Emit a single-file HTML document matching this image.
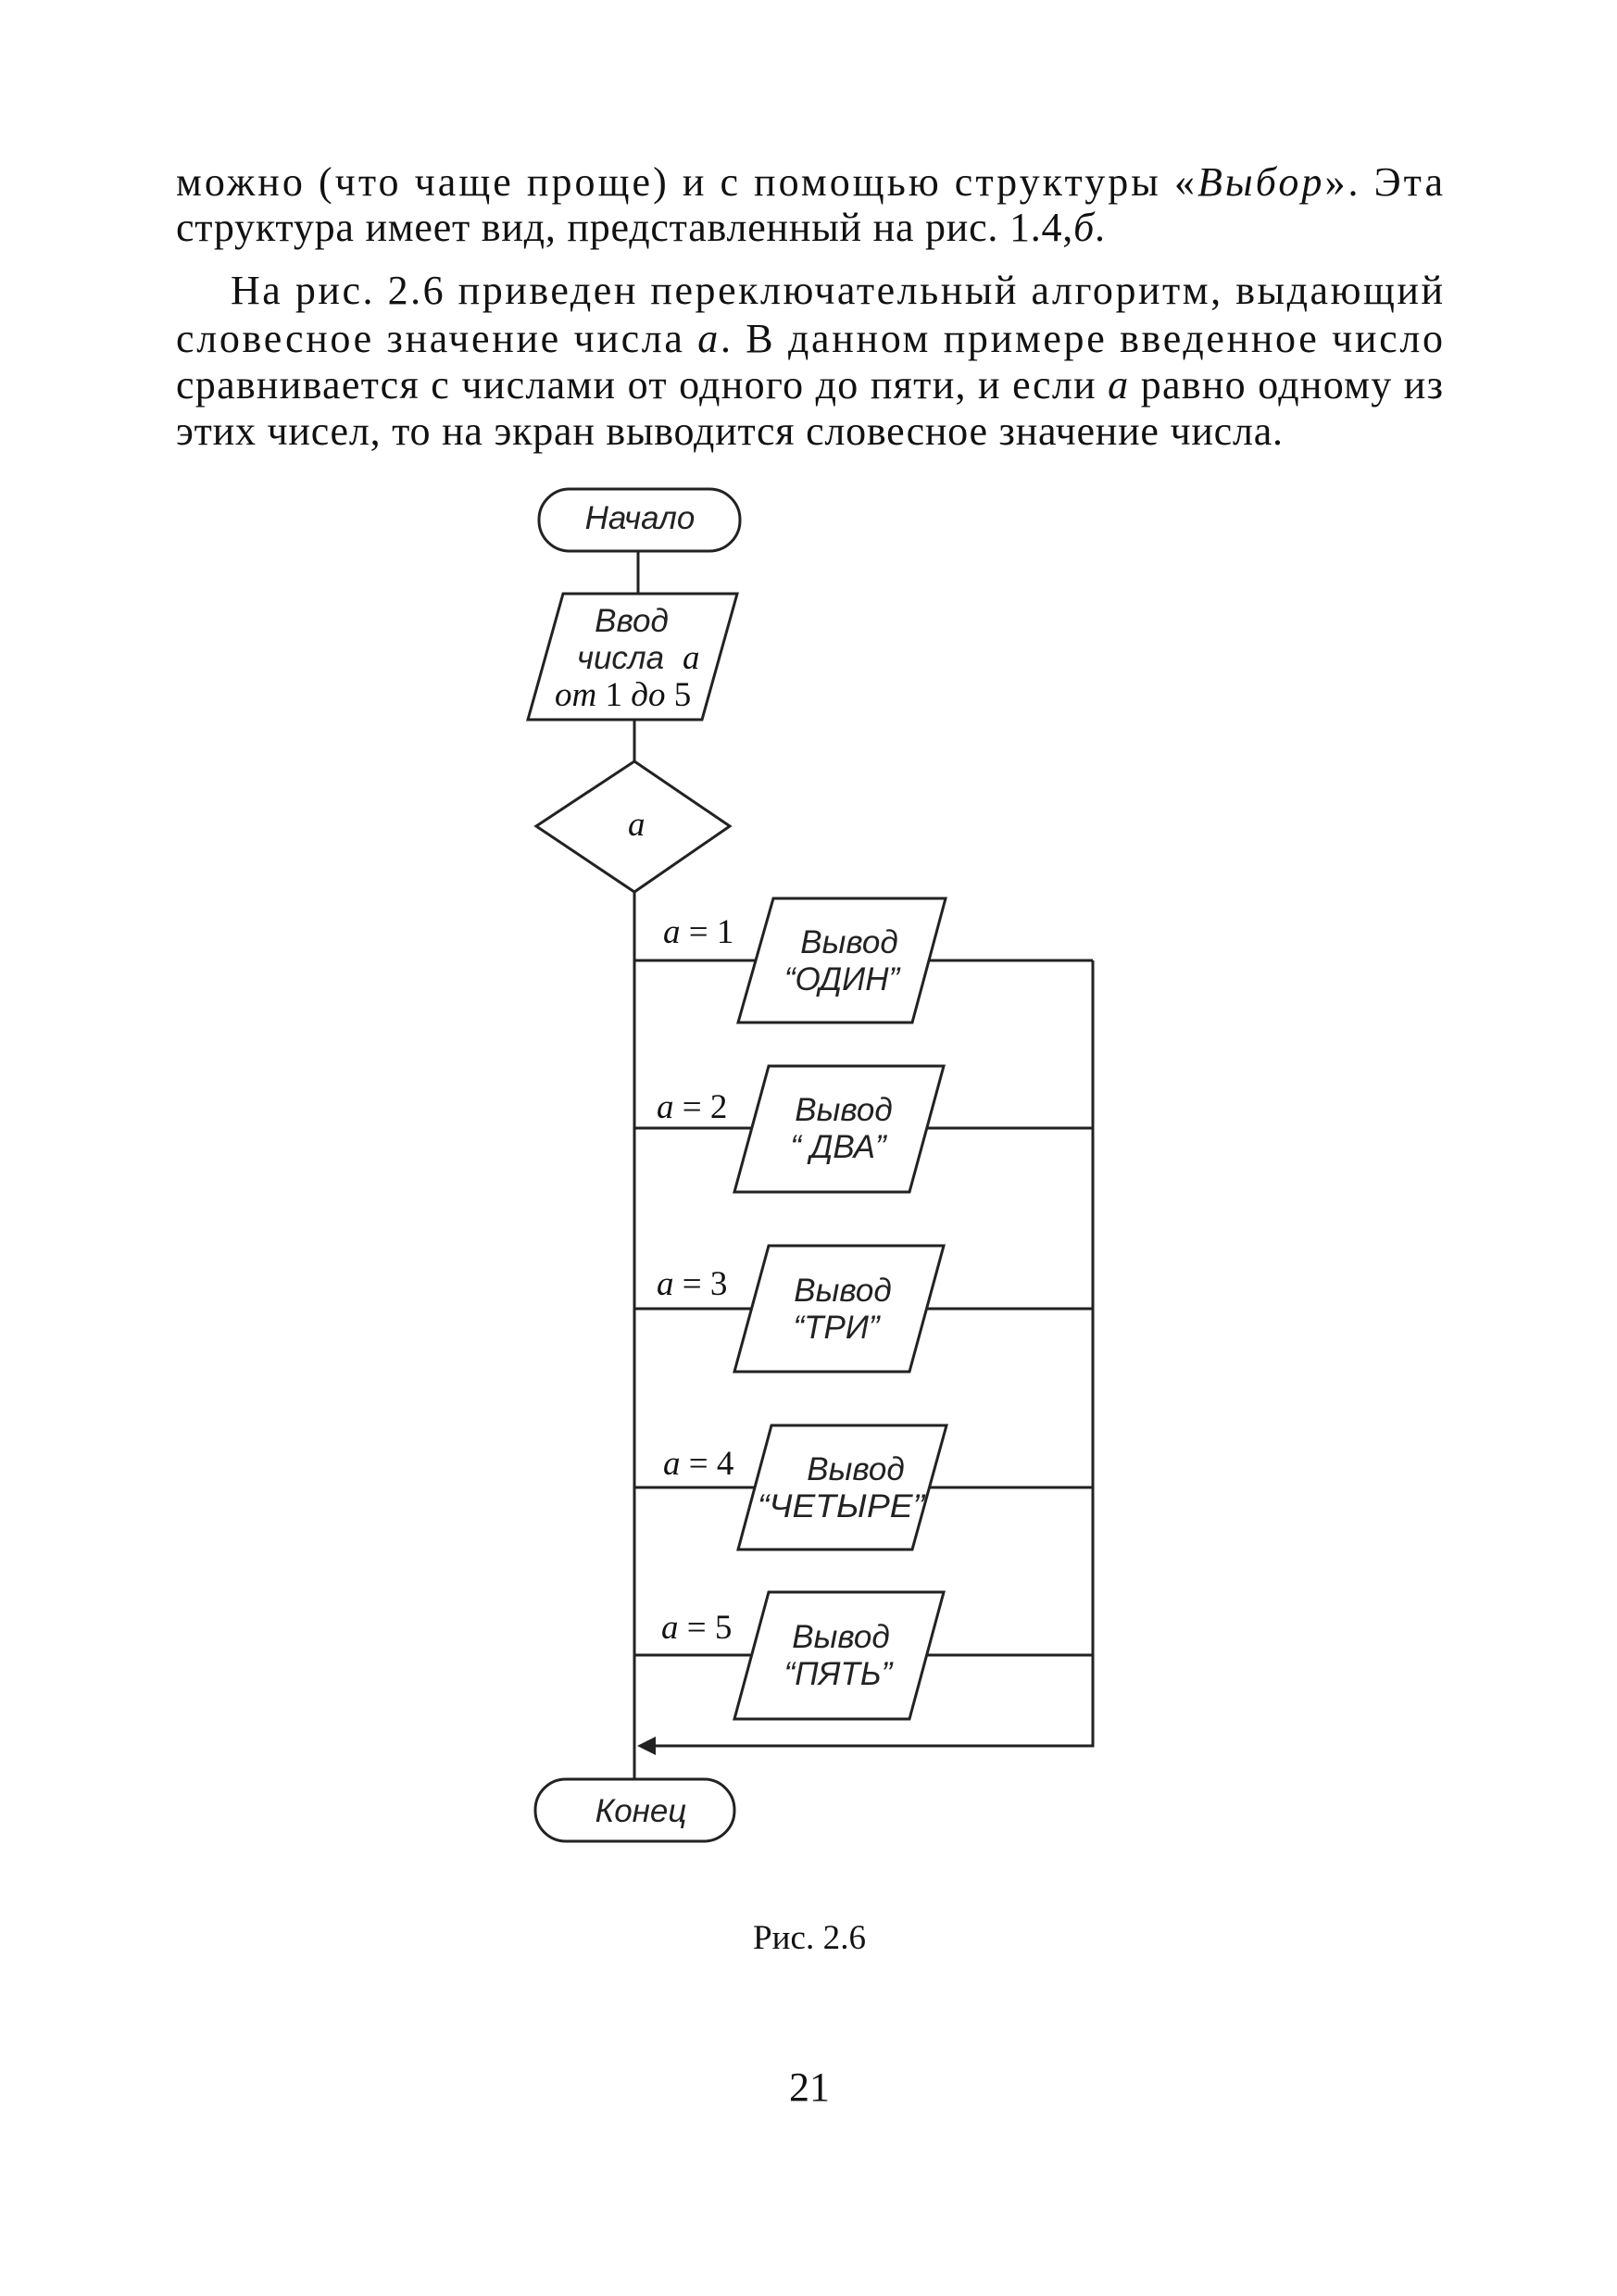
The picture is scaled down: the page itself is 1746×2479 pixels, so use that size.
<!DOCTYPE html>
<html><head><meta charset="utf-8"><style>
html,body{margin:0;padding:0;background:#fff;}
svg{display:block;}
.t{font-family:"Liberation Serif",serif;font-size:44px;fill:#111;}
.a{font-family:"Liberation Sans",sans-serif;font-style:italic;font-size:35px;fill:#222;}
.s{font-family:"Liberation Serif",serif;font-size:37px;fill:#111;}
.i{font-style:italic;}
</style></head><body>
<svg width="1746" height="2479" viewBox="0 0 1746 2479" xmlns="http://www.w3.org/2000/svg">
<text class="t" x="190" y="211" textLength="1368" lengthAdjust="spacing">можно (что чаще проще) и с помощью структуры «<tspan class="i">Выбор</tspan>». Эта</text>
<text class="t" x="190" y="260" textLength="1003" lengthAdjust="spacing">структура имеет вид, представленный на рис. 1.4,<tspan class="i">б</tspan>.</text>
<text class="t" x="249" y="328" textLength="1309" lengthAdjust="spacing">На рис. 2.6 приведен переключательный алгоритм, выдающий</text>
<text class="t" x="190" y="380" textLength="1368" lengthAdjust="spacing">словесное значение числа <tspan class="i">a</tspan>. В данном примере введенное число</text>
<text class="t" x="190" y="430" textLength="1368" lengthAdjust="spacing">сравнивается с числами от одного до пяти, и если <tspan class="i">a</tspan> равно одному из</text>
<text class="t" x="190" y="480" textLength="1195" lengthAdjust="spacing">этих чисел, то на экран выводится словесное значение числа.</text>

<g stroke="#222" stroke-width="3" fill="none">
<rect x="582" y="528" width="217" height="67" rx="33" ry="33"/>
<line x1="689" y1="595" x2="689" y2="641"/>
<polygon points="608,641 796,641 758,777 570,777"/>
<line x1="685" y1="777" x2="685" y2="822"/>
<polygon points="685,822 788,892 685,963 579,892"/>
<line x1="685" y1="963" x2="685" y2="1921"/>
<polygon points="835,970 1021,970 985,1104 797,1104"/>
<polygon points="830,1151 1019,1151 982,1287 793,1287"/>
<polygon points="830,1345 1019,1345 982,1481 793,1481"/>
<polygon points="833,1539 1022,1539 985,1673 797,1673"/>
<polygon points="830,1719 1019,1719 982,1856 793,1856"/>
<line x1="685" y1="1037" x2="816" y2="1037"/><line x1="1003" y1="1037" x2="1180" y2="1037"/>
<line x1="685" y1="1218" x2="812" y2="1218"/><line x1="1001" y1="1218" x2="1180" y2="1218"/>
<line x1="685" y1="1413" x2="812" y2="1413"/><line x1="1001" y1="1413" x2="1180" y2="1413"/>
<line x1="685" y1="1606" x2="815" y2="1606"/><line x1="1004" y1="1606" x2="1180" y2="1606"/>
<line x1="685" y1="1787" x2="812" y2="1787"/><line x1="1001" y1="1787" x2="1180" y2="1787"/>
<polyline points="1180,1037 1180,1885 700,1885"/>
<rect x="578" y="1921" width="215" height="67" rx="33" ry="33"/>
</g>
<polygon points="688,1885 708,1875 708,1895" fill="#222"/>

<text class="a" x="691" y="571" text-anchor="middle">Начало</text>
<text class="a" x="682" y="682" text-anchor="middle">Ввод</text>
<text class="a" x="670" y="722" text-anchor="middle">числа</text>
<text class="s i" x="737" y="722">a</text>
<text class="s" x="599" y="762"><tspan class="i">от</tspan> 1 <tspan class="i">до</tspan> 5</text>
<text class="s i" x="678" y="902">a</text>

<text class="s" x="716" y="1018"><tspan class="i">a</tspan> = 1</text>
<text class="s" x="709" y="1207"><tspan class="i">a</tspan> = 2</text>
<text class="s" x="709" y="1398"><tspan class="i">a</tspan> = 3</text>
<text class="s" x="716" y="1592"><tspan class="i">a</tspan> = 4</text>
<text class="s" x="714" y="1769"><tspan class="i">a</tspan> = 5</text>

<text class="a" x="917" y="1029" text-anchor="middle">Вывод</text>
<text class="a" x="909" y="1069" text-anchor="middle">“ОДИН”</text>
<text class="a" x="911" y="1210" text-anchor="middle">Вывод</text>
<text class="a" x="905" y="1250" text-anchor="middle">“ ДВА”</text>
<text class="a" x="910" y="1405" text-anchor="middle">Вывод</text>
<text class="a" x="903" y="1445" text-anchor="middle">“ТРИ”</text>
<text class="a" x="924" y="1598" text-anchor="middle">Вывод</text>
<text class="a" x="908" y="1638" text-anchor="middle" textLength="180" lengthAdjust="spacingAndGlyphs">“ЧЕТЫРЕ”</text>
<text class="a" x="908" y="1779" text-anchor="middle">Вывод</text>
<text class="a" x="905" y="1819" text-anchor="middle">“ПЯТЬ”</text>
<text class="a" x="692" y="1967" text-anchor="middle">Конец</text>

<text class="s" x="813" y="2104" style="font-size:37px" textLength="122" lengthAdjust="spacing">Рис. 2.6</text>
<text class="s" x="852" y="2268" style="font-size:44px">21</text>
</svg>
</body></html>
